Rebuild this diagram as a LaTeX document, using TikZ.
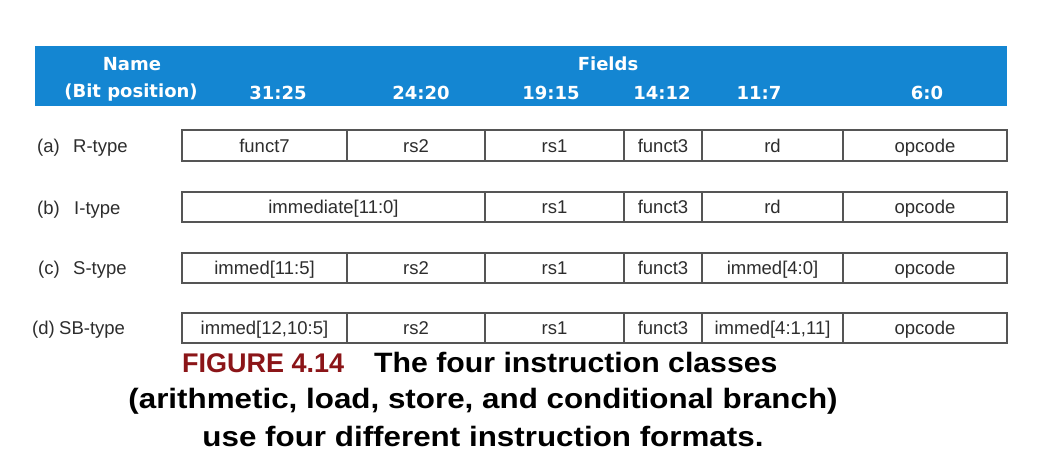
\documentclass[tikz,border=0pt]{standalone}
\usepackage{fontspec}
\setmainfont{Liberation Sans}
\newfontfamily\hdrfont{DejaVu Sans}
\definecolor{hdrblue}{RGB}{20,134,210}
\definecolor{figred}{RGB}{139,21,24}
\definecolor{celltext}{RGB}{45,45,45}
\definecolor{cellline}{RGB}{85,85,85}
\tikzset{
  hdrtext/.style={text=white, font=\hdrfont\bfseries\fontsize{18}{20}\selectfont, inner sep=0pt, anchor=base},
  cell/.style={draw=cellline, line width=1.1pt, inner sep=0pt, text=celltext,
    font=\fontsize{18.5}{20}\selectfont, text height=14pt, text depth=1pt},
  rowlab/.style={text=celltext, font=\fontsize{18.5}{20}\selectfont, inner sep=0pt, anchor=base west},
  capred/.style={text=figred, font=\bfseries\fontsize{27}{30}\selectfont, inner sep=0pt},
  capblack/.style={text=black, font=\bfseries\fontsize{28}{30}\selectfont, inner sep=0pt}
}
% cell macro: name, left, right, top, bottom, text
\newcommand{\fcell}[6]{%
  \node[cell, minimum width={(#3-#2)*1pt}, minimum height={(#5-#4)*1pt}] (#1) at ({(#2+#3)/2},{(#4+#5)/2}) {#6};}
\begin{document}
\begin{tikzpicture}[x=1pt,y=-1pt]
\useasboundingbox[fill=white] (0,0) rectangle (1054,458);
% header band
\node[fill=hdrblue, minimum width=972pt, minimum height=60pt, inner sep=0pt, anchor=north west] (hdr) at (35,46) {};
\node[hdrtext] (hname) at (132,70) {Name};
\node[hdrtext] (hbit) at (131,97) {(Bit position)};
\node[hdrtext] (hfields) at (608,70) {Fields};
\node[hdrtext] (h1) at (278,99) {31:25};
\node[hdrtext] (h2) at (421,99) {24:20};
\node[hdrtext] (h3) at (551,99) {19:15};
\node[hdrtext] (h4) at (662,99) {14:12};
\node[hdrtext] (h5) at (759,99) {11:7};
\node[hdrtext] (h6) at (927,99) {6:0};
% row (a)
\node[rowlab] (la1) at (37,152) {(a)};
\node[rowlab] (la2) at (73,152) {R-type};
\fcell{a1}{182}{347}{130}{161}{funct7}
\fcell{a2}{347}{485}{130}{161}{rs2}
\fcell{a3}{485}{624}{130}{161}{rs1}
\fcell{a4}{624}{702}{130}{161}{funct3}
\fcell{a5}{702}{843}{130}{161}{rd}
\fcell{a6}{843}{1007}{130}{161}{opcode}
% row (b)
\node[rowlab] (lb1) at (37,214) {(b)};
\node[rowlab] (lb2) at (74,214) {I-type};
\fcell{b1}{182}{485}{192}{222}{immediate[11:0]}
\fcell{b3}{485}{624}{192}{222}{rs1}
\fcell{b4}{624}{702}{192}{222}{funct3}
\fcell{b5}{702}{843}{192}{222}{rd}
\fcell{b6}{843}{1007}{192}{222}{opcode}
% row (c)
\node[rowlab] (lc1) at (38,274) {(c)};
\node[rowlab] (lc2) at (73,274) {S-type};
\fcell{c1}{182}{347}{253}{283}{immed[11:5]}
\fcell{c2}{347}{485}{253}{283}{rs2}
\fcell{c3}{485}{624}{253}{283}{rs1}
\fcell{c4}{624}{702}{253}{283}{funct3}
\fcell{c5}{702}{843}{253}{283}{immed[4:0]}
\fcell{c6}{843}{1007}{253}{283}{opcode}
% row (d)
\node[rowlab] (ld1) at (32,334) {(d)};
\node[rowlab] (ld2) at (59,334) {SB-type};
\fcell{d1}{182}{347}{313}{343}{immed[12,10:5]}
\fcell{d2}{347}{485}{313}{343}{rs2}
\fcell{d3}{485}{624}{313}{343}{rs1}
\fcell{d4}{624}{702}{313}{343}{funct3}
\fcell{d5}{702}{843}{313}{343}{immed[4:1,11]}
\fcell{d6}{843}{1007}{313}{343}{opcode}
% caption
\node[capred, anchor=base west] (cap0) at (182,372) {FIGURE 4.14};
\node[capblack, anchor=base west] (cap1) at (374,372) {\scalebox{1.08}[1]{The four instruction classes}};
\node[capblack, anchor=base] (cap2) at (483,408) {\scalebox{1.12}[1]{(arithmetic, load, store, and conditional branch)}};
\node[capblack, anchor=base] (cap3) at (483,446) {\scalebox{1.12}[1]{use four different instruction formats.}};
\end{tikzpicture}
\end{document}
